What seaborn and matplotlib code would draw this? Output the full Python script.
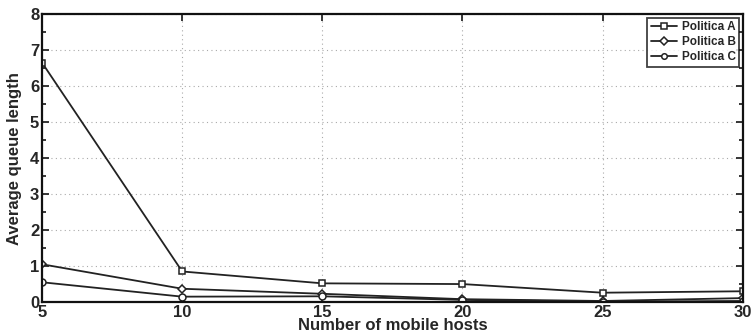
import matplotlib
matplotlib.use("Agg")
import pandas as pd
import seaborn as sns
import matplotlib.pyplot as plt
from matplotlib.ticker import MultipleLocator

hosts = [5, 10, 15, 20, 25, 30]
politica_a = [6.65, 0.85, 0.52, 0.50, 0.26, 0.30]
politica_b = [1.05, 0.37, 0.23, 0.08, 0.03, 0.11]
politica_c = [0.55, 0.15, 0.16, 0.06, 0.01, 0.03]
labels = ['Politica A', 'Politica B', 'Politica C']

df = pd.DataFrame({'hosts': hosts * 3,
                   'queue': politica_a + politica_b + politica_c,
                   'policy': [l for l in labels for _ in hosts]})

sns.set_theme(style="white")
plt.rcParams['font.family'] = ['Liberation Sans', 'DejaVu Sans']
plt.rcParams['font.weight'] = 'bold'

fig = plt.figure(figsize=(7.51, 3.36), dpi=100)
ax = fig.add_axes([0.056, 0.101, 0.933, 0.857])

sns.lineplot(data=df, x='hosts', y='queue', hue='policy', style='policy',
             palette=['#222222'] * 3, markers=['s', 'D', 'o'], dashes=False,
             markersize=4, markerfacecolor='white', markeredgecolor='#222222',
             markeredgewidth=1.1, linewidth=1.3, ax=ax)
for line, ms in zip(ax.get_lines(), [4, 4, 5]):
    line.set_markersize(ms)

ax.set_xlim(5, 30)
ax.set_ylim(0, 8)
ax.set_xticks(hosts)
ax.set_yticks(range(0, 9))
ax.yaxis.set_minor_locator(MultipleLocator(0.5))
ax.grid(True, which='major', linestyle=(0, (1, 3)), color='#aaaaaa', linewidth=0.8)
ax.tick_params(direction='in', which='both', length=5, width=1.3, labelsize=12,
               pad=2, top=True, right=True, left=True, bottom=True)
ax.tick_params(which='minor', length=3)
for lab in ax.get_xticklabels() + ax.get_yticklabels():
    lab.set_fontweight('bold')
for s in ax.spines.values():
    s.set_linewidth(1.6)
    s.set_color('#111111')

ax.set_xlabel('Number of mobile hosts', fontsize=12, fontweight='bold', labelpad=-1)
ax.set_ylabel('Average queue length', fontsize=12, fontweight='bold', labelpad=6)

leg = ax.legend(loc='upper right', prop={'weight': 'bold', 'size': 8.5},
                frameon=True, fancybox=False, edgecolor='#111111',
                borderaxespad=0.3, handlelength=2.2, labelspacing=0.25,
                borderpad=0.3, handletextpad=0.4)
leg.get_frame().set_linewidth(1.3)

fig.savefig('out.png', dpi=100)
